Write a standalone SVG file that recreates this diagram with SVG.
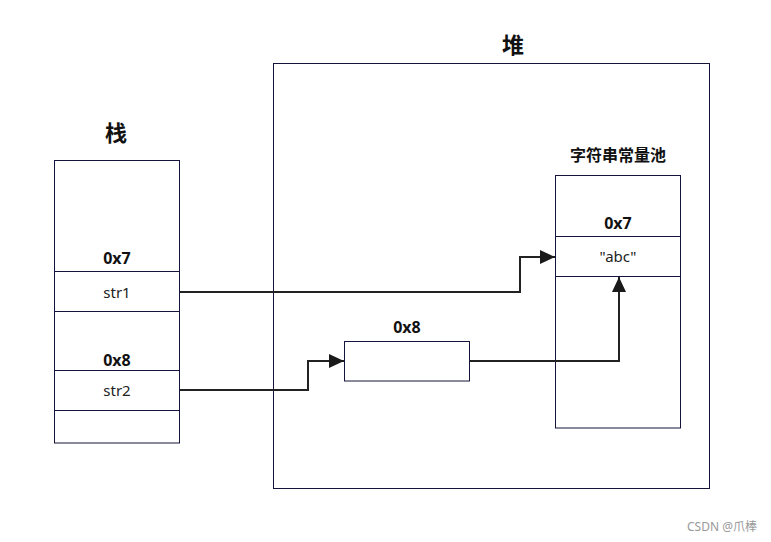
<svg xmlns="http://www.w3.org/2000/svg" width="771" height="542" viewBox="0 0 771 542">
<defs>
<marker id="arr" markerWidth="16" markerHeight="14" refX="15" refY="7" orient="auto" markerUnits="userSpaceOnUse">
<path d="M0,0 L15,7 L0,14 Z" fill="#1a1a1a"/>
</marker>
</defs>
<style>
.box{fill:#fff;stroke:#14143c;stroke-width:1}
.div{stroke:#14143c;stroke-width:1}
.lbl{font-family:"Noto Sans","Noto Sans CJK SC",sans-serif;font-size:15px;fill:#222;text-anchor:middle}
.addr{font-family:"Noto Sans","Noto Sans CJK SC",sans-serif;font-size:16px;font-weight:bold;fill:#111;text-anchor:middle}
.title{font-family:"Noto Sans CJK SC",sans-serif;font-size:22px;font-weight:bold;fill:#111;text-anchor:middle}
.sub{font-family:"Noto Sans CJK SC",sans-serif;font-size:16px;font-weight:bold;fill:#111;text-anchor:middle}
.conn{fill:none;stroke:#222;stroke-width:2}
</style>
<rect width="771" height="542" fill="#fff"/>
<g id="heap">
<rect class="box" x="273.5" y="63.5" width="436" height="425"/>
<text class="title" x="513" y="53">堆</text>
</g>
<g id="stack">
<rect class="box" x="54.5" y="160.5" width="125" height="282.5"/>
<line class="div" x1="54.5" y1="271.5" x2="179.5" y2="271.5"/>
<line class="div" x1="54.5" y1="311.5" x2="179.5" y2="311.5"/>
<line class="div" x1="54.5" y1="370.5" x2="179.5" y2="370.5"/>
<line class="div" x1="54.5" y1="410.5" x2="179.5" y2="410.5"/>
<text class="title" x="116" y="141">栈</text>
<text class="addr" x="117" y="264">0x7</text>
<text class="lbl" x="117" y="298">str1</text>
<text class="addr" x="117" y="366">0x8</text>
<text class="lbl" x="117" y="396">str2</text>
</g>
<g id="pool">
<rect class="box" x="555.5" y="175.5" width="125" height="252.5"/>
<line class="div" x1="555.5" y1="236.5" x2="680.5" y2="236.5"/>
<line class="div" x1="555.5" y1="276.5" x2="680.5" y2="276.5"/>
<text class="sub" x="618" y="161">字符串常量池</text>
<text class="addr" x="618" y="229">0x7</text>
<text class="lbl" x="618" y="262">"abc"</text>
</g>
<g id="obj">
<rect class="box" x="344.5" y="341.5" width="125" height="39.5"/>
<text class="addr" x="407" y="333">0x8</text>
</g>
<g id="connectors">
<path class="conn" d="M179.5,292 H520 V257 H555" marker-end="url(#arr)"/>
<path class="conn" d="M179.5,390 H308 V361 H344" marker-end="url(#arr)"/>
<path class="conn" d="M469.5,361 H619 V277" marker-end="url(#arr)"/>
</g>
<text x="757" y="531" font-family="'Noto Sans','Noto Sans CJK SC',sans-serif" font-size="12" fill="#999" text-anchor="end">CSDN @爪棒</text>
</svg>
